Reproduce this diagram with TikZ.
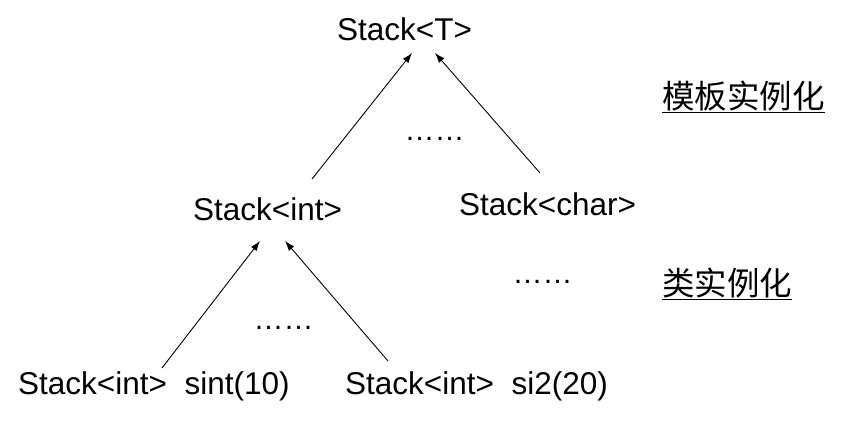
\documentclass[tikz,border=0pt]{standalone}
\usepackage{fontspec}
\setmainfont{Liberation Sans}
\newfontfamily\cjkfont{Noto Sans CJK SC}
\usetikzlibrary{arrows.meta}
\newcommand{\bigtext}{\fontsize{31.5}{38}\selectfont}
\newcommand{\cjktext}{\cjkfont\fontsize{32.5}{38}\selectfont}
\tikzset{
  typename/.style={inner sep=0pt,anchor=base west,font=\bigtext},
  stagename/.style={inner sep=0pt,anchor=base west,font=\cjktext},
  gapdots/.style={inner sep=0pt,anchor=center,font=\fontsize{30}{36}\selectfont},
  instarrow/.style={-{Latex[length=10pt,width=7pt]},line width=0.9pt}
}

\begin{document}
\begin{tikzpicture}[x=1pt,y=-1pt]
\useasboundingbox (0,0) rectangle (845,423);

% Class template on top.
\node[typename] (tmpl) at (337,40) {Stack<T>};

% Classes made from the template.
\node[typename] (sint) at (193,220) {Stack<int>};
\node[typename] (schar) at (459,215) {Stack<char>};

% Objects of Stack<int>.
\node[typename] (obj1) at (18,394) {Stack<int>\ \ sint(10)};
\node[typename] (obj2) at (345,394) {Stack<int>\ \ si2(20)};

% Gaps for further instances.
\node[gapdots] (dots1) at (434.5,139) {……};
\node[gapdots] (dots2) at (542.5,282) {……};
\node[gapdots] (dots3) at (283.5,328) {……};

% Stage labels on the right.
\node[stagename] (tmplinst) at (662,108) {\underline{模板实例化}};
\node[stagename] (clsinst) at (662,295) {\underline{类实例化}};

% Template instantiation.
\draw[instarrow] ([shift={(119,-41)}]sint.base west) -- ([shift={(75,13)}]tmpl.base west);
\draw[instarrow] ([shift={(81,-42)}]schar.base west) -- ([shift={(98,13)}]tmpl.base west);

% Class instantiation.
\draw[instarrow] ([shift={(144,-26)}]obj1.base west) -- ([shift={(67,21)}]sint.base west);
\draw[instarrow] ([shift={(43,-33)}]obj2.base west) -- ([shift={(92,21)}]sint.base west);

\end{tikzpicture}
\end{document}
